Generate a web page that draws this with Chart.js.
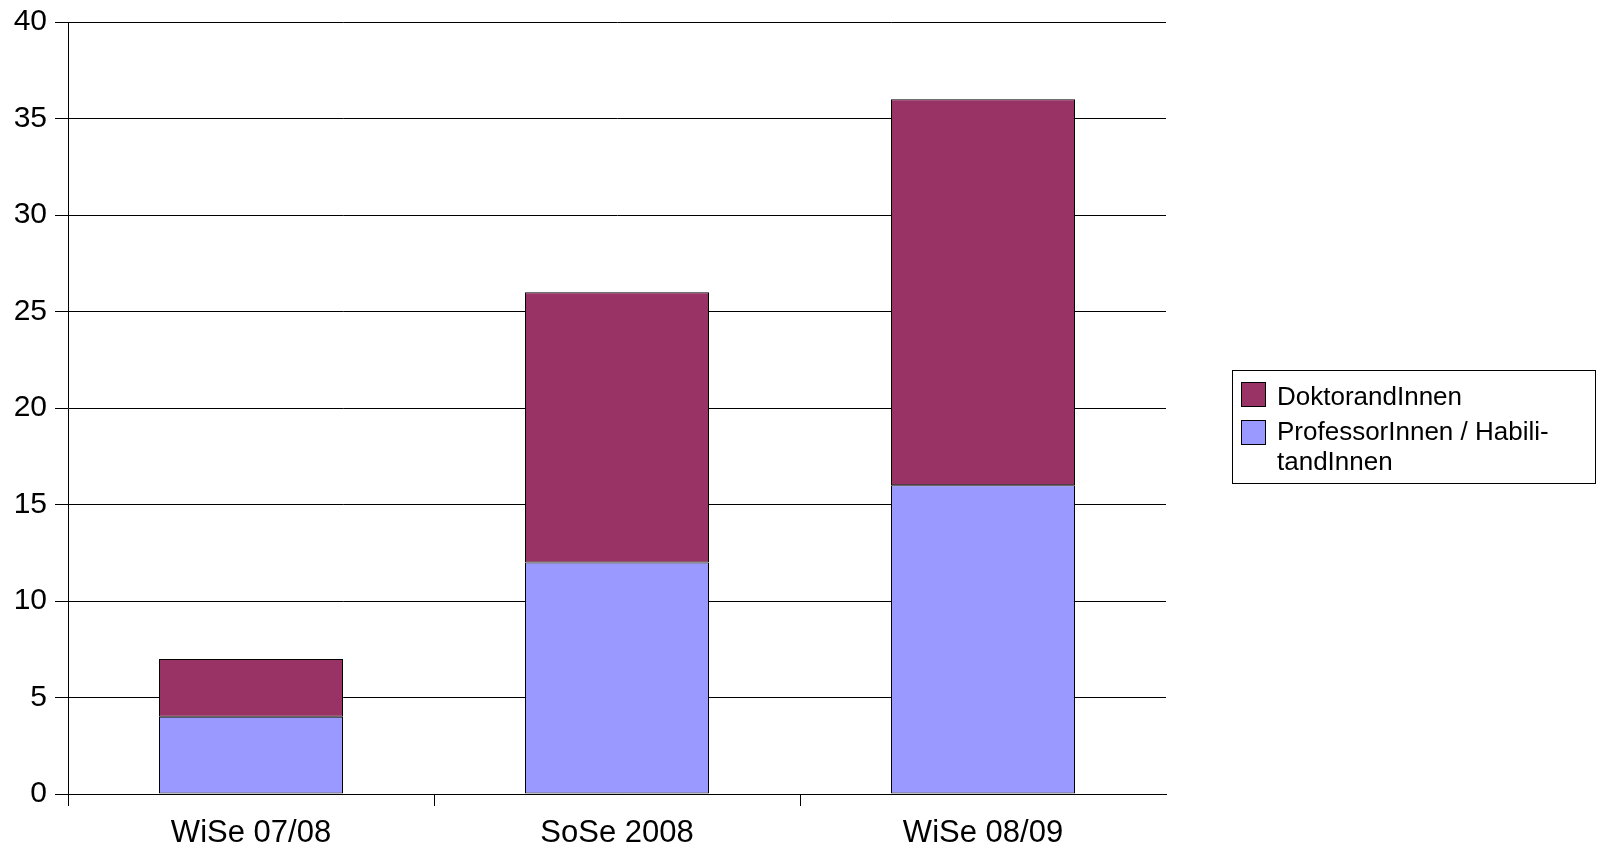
<!DOCTYPE html>
<html>
<head>
<meta charset="utf-8">
<script src="https://cdn.jsdelivr.net/npm/chart.js@4/dist/chart.umd.min.js"></script>
<style>
html,body{margin:0;padding:0;background:#fff;}
#wrap{width:1599px;height:846px;position:relative;}
</style>
</head>
<body>
<div id="wrap"><canvas id="c" width="1599" height="846"></canvas></div>
<script>
const categories = ['WiSe 07/08', 'SoSe 2008', 'WiSe 08/09'];
const professorinnen = [4, 12, 16];
const doktorandinnen = [3, 14, 20];
const yTicks = [0, 5, 10, 15, 20, 25, 30, 35, 40];
const seriesNames = ['ProfessorInnen / Habili-\ntandInnen', 'DoktorandInnen'];
const seriesColors = ['#9999FF', '#993366'];

const FONT = "'Liberation Sans', Arial, sans-serif";

const boxLegend = {
  id: 'boxLegend',
  afterDraw(chart) {
    const ctx = chart.ctx;
    ctx.save();
    ctx.strokeStyle = '#000';
    ctx.lineWidth = 1;
    ctx.strokeRect(1232.5, 370.5, 363, 113);
    ctx.font = '26px ' + FONT;
    ctx.fillStyle = '#000';
    ctx.textBaseline = 'alphabetic';
    const items = chart.data.datasets.slice().reverse();
    const swatchY = [382, 420];
    const baseY = [405, 440];
    items.forEach((ds, i) => {
      ctx.fillStyle = ds.backgroundColor;
      ctx.fillRect(1241, swatchY[i], 25, 25);
      ctx.strokeStyle = '#000';
      ctx.strokeRect(1241.5, swatchY[i] + 0.5, 24, 24);
      ctx.fillStyle = '#000';
      const lines = ds.label.split('\n');
      lines.forEach((ln, j) => {
        ctx.fillText(ln, 1277, baseY[i] + j * 30);
      });
    });
    ctx.restore();
  }
};

new Chart(document.getElementById('c'), {
  type: 'bar',
  data: {
    labels: categories,
    datasets: [
      { label: seriesNames[0], data: professorinnen, backgroundColor: seriesColors[0], borderColor: '#000', borderWidth: 1, borderSkipped: false },
      { label: seriesNames[1], data: doktorandinnen, backgroundColor: seriesColors[1], borderColor: '#000', borderWidth: 1, borderSkipped: false }
    ]
  },
  options: {
    responsive: false,
    animation: false,
    events: [],
    layout: { padding: { top: 22, right: 433, left: 0, bottom: 0 } },
    datasets: { bar: { categoryPercentage: 184 / 366, barPercentage: 1.0 } },
    plugins: { legend: { display: false }, tooltip: { enabled: false } },
    scales: {
      x: {
        stacked: true,
        offset: true,
        grid: {
          offset: true,
          drawOnChartArea: false,
          drawTicks: true,
          tickLength: 12,
          color: (c) => (c.tick === undefined ? 'rgba(0,0,0,0)' : '#000'),
          lineWidth: 1
        },
        border: { display: true, color: '#000', width: 1 },
        ticks: { color: '#000', font: { family: FONT, size: 31 }, padding: 9, maxRotation: 0 },
        afterFit(s) { s.height = 52; }
      },
      y: {
        stacked: true,
        min: 0,
        max: 40,
        afterBuildTicks(s) { s.ticks = yTicks.map(v => ({ value: v })); },
        grid: { color: '#000', lineWidth: 1, tickLength: 13, drawTicks: true },
        border: { display: true, color: '#000', width: 1 },
        ticks: { color: '#000', font: { family: FONT, size: 30, lineHeight: 1 }, padding: 8 },
        afterFit(s) { s.width = 68; s.paddingTop = 0; s.paddingBottom = 0; }
      }
    }
  },
  plugins: [boxLegend]
});
</script>
</body>
</html>
